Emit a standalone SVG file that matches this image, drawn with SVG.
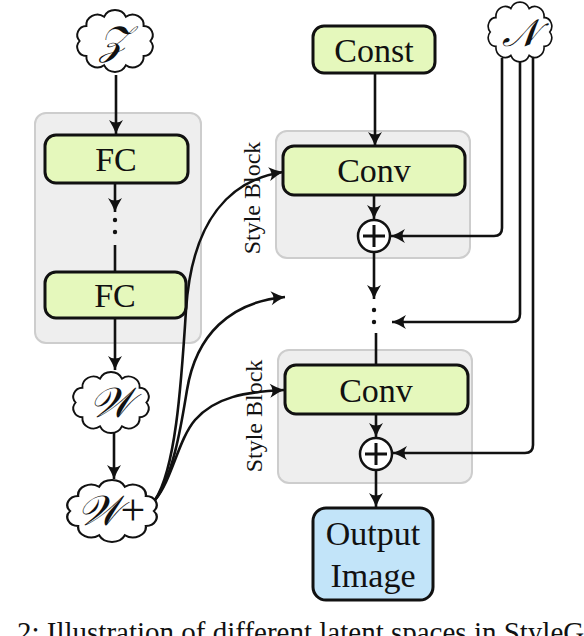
<svg xmlns="http://www.w3.org/2000/svg" xmlns:xlink="http://www.w3.org/1999/xlink" width="584" height="636" viewBox="0 0 584 636">
<style>
.blk{fill:#eeeeee;stroke:#cdcdcd;stroke-width:2}
.box{fill:#e5f8bc;stroke:#111;stroke-width:3}
.out{fill:#c2e4f9;stroke:#111;stroke-width:3}
.cl{fill:#fff;stroke:#111;stroke-width:2.2;vector-effect:non-scaling-stroke}
.t{font-family:"Liberation Serif","Times New Roman",serif;font-size:34px;fill:#111;text-anchor:middle}
.lab{font-family:"Liberation Serif","Times New Roman",serif;font-size:24px;fill:#111;text-anchor:middle}
.m{font-family:"DejaVu Serif","Liberation Serif",serif;font-style:italic;fill:#111;text-anchor:middle}
.pl{font-family:"Liberation Serif","Times New Roman",serif;font-style:normal;font-size:44px}
.c{fill:none;stroke:#111;stroke-width:2.6}
.a{marker-end:url(#arr)}
.cap{font-family:"Liberation Serif","Times New Roman",serif;font-size:29px;fill:#111}
</style>
<defs>
<marker id="arr" viewBox="-15 -8 16 16" markerWidth="16" markerHeight="16" refX="0" refY="0" orient="auto" markerUnits="userSpaceOnUse">
<path d="M 0 0 Q -7 -2.5 -14 -7 Q -9 0 -14 7 Q -7 2.5 0 0 Z" fill="#111"/>
</marker>
<path id="cloud" d="M 40 0 A 10.6 10.6 0 0 1 32.36 17.63 A 12.5 12.5 0 0 1 12.36 28.53 A 13.6 13.6 0 0 1 -12.36 28.53 A 12.5 12.5 0 0 1 -32.36 17.63 A 10.6 10.6 0 0 1 -40 0 A 10.6 10.6 0 0 1 -32.36 -17.63 A 12.5 12.5 0 0 1 -12.36 -28.53 A 13.6 13.6 0 0 1 12.36 -28.53 A 12.5 12.5 0 0 1 32.36 -17.63 A 10.6 10.6 0 0 1 40 0 Z"/>
</defs>

<g id="mapping-network">
<rect class="blk" x="35" y="113" width="166" height="230" rx="11"/>
</g>
<g id="style-block-1">
<rect class="blk" x="276" y="131" width="194" height="127" rx="11"/>
<text class="lab" transform="translate(260,198) rotate(-90)">Style Block</text>
</g>
<g id="style-block-2">
<rect class="blk" x="278" y="350" width="194" height="133" rx="11"/>
<text class="lab" transform="translate(262,416) rotate(-90)">Style Block</text>
</g>

<g id="connectors">
<path class="c a" d="M 116 75 V 134"/>
<path class="c a" d="M 115 183 V 212"/>
<path class="c" d="M 115 245 V 272"/>
<path class="c a" d="M 115 318 V 370"/>
<path class="c a" d="M 114 433 V 479"/>
<path class="c a" d="M 375 73 V 146"/>
<path class="c a" d="M 374 195 V 219"/>
<path class="c a" d="M 374 252 V 299"/>
<path class="c" d="M 376 333 V 365"/>
<path class="c a" d="M 376 414 V 437"/>
<path class="c a" d="M 376 470 V 507"/>
<path class="c a" d="M 502 58 V 228 Q 502 236 494 236 H 391"/>
<path class="c a" d="M 520 60 V 314 Q 520 322 512 322 H 392"/>
<path class="c a" d="M 533 58 V 445 Q 533 453 525 453 H 393"/>
<path class="c a" d="M 155 500 C 175 470 181 390 186 310 C 192 220 230 180 283 172"/>
<path class="c a" d="M 155 500 C 174 475 182 420 187 390 C 196 335 230 302 285 297"/>
<path class="c a" d="M 155 500 C 172 480 178 440 195 420 C 215 397 245 392 284 390"/>
<circle cx="115" cy="220" r="2.2" fill="#111"/>
<circle cx="115" cy="232" r="2.2" fill="#111"/>
<circle cx="374" cy="310" r="2.2" fill="#111"/>
<circle cx="374" cy="322" r="2.2" fill="#111"/>
</g>

<g id="z">
<use xlink:href="#cloud" href="#cloud" class="cl" transform="translate(115,41) scale(0.884,0.849)"/>
<text class="m" x="114" y="54" font-size="40">𝒵</text>
</g>
<g id="fc1">
<rect class="box" x="45" y="135" width="143" height="48" rx="11"/>
<text class="t" x="116" y="171">FC</text>
</g>
<g id="fc2">
<rect class="box" x="45" y="272" width="141" height="46" rx="11"/>
<text class="t" x="115" y="307">FC</text>
</g>
<g id="w">
<use xlink:href="#cloud" href="#cloud" class="cl" transform="translate(111,402.5) scale(0.884,0.836)"/>
<text class="m" x="111" y="417" font-size="42">𝒲</text>
</g>
<g id="w-plus">
<use xlink:href="#cloud" href="#cloud" class="cl" transform="translate(112,511) scale(1.047,0.849)"/>
<text class="m" x="111" y="525" font-size="42">𝒲<tspan class="pl">+</tspan></text>
</g>
<g id="n">
<use xlink:href="#cloud" href="#cloud" class="cl" transform="translate(520,32) scale(0.744,0.822)"/>
<text class="m" x="520" y="46" font-size="38">𝒩</text>
</g>
<g id="const">
<rect class="box" x="313" y="26" width="122" height="47" rx="11"/>
<text class="t" x="374" y="62">Const</text>
</g>
<g id="conv1">
<rect class="box" x="283" y="146" width="182" height="49" rx="11"/>
<text class="t" x="374" y="182">Conv</text>
</g>
<g id="plus1">
<circle cx="374" cy="236" r="16" fill="#fff" stroke="#111" stroke-width="2.5"/>
<path d="M 363 236 H 385 M 374 225 V 247" stroke="#111" stroke-width="3"/>
</g>
<g id="conv2">
<rect class="box" x="285" y="365" width="183" height="49" rx="11"/>
<text class="t" x="376" y="402">Conv</text>
</g>
<g id="plus2">
<circle cx="376" cy="454" r="16" fill="#fff" stroke="#111" stroke-width="2.5"/>
<path d="M 365 454 H 387 M 376 443 V 465" stroke="#111" stroke-width="3"/>
</g>
<g id="output-image">
<rect class="out" x="313" y="508" width="120" height="92" rx="13"/>
<text class="t" x="373" y="545">Output</text>
<text class="t" x="373" y="587">Image</text>
</g>
<g id="caption">
<text class="cap" x="17" y="642">2: Illustration of different latent spaces in StyleGAN</text>
</g>
</svg>
